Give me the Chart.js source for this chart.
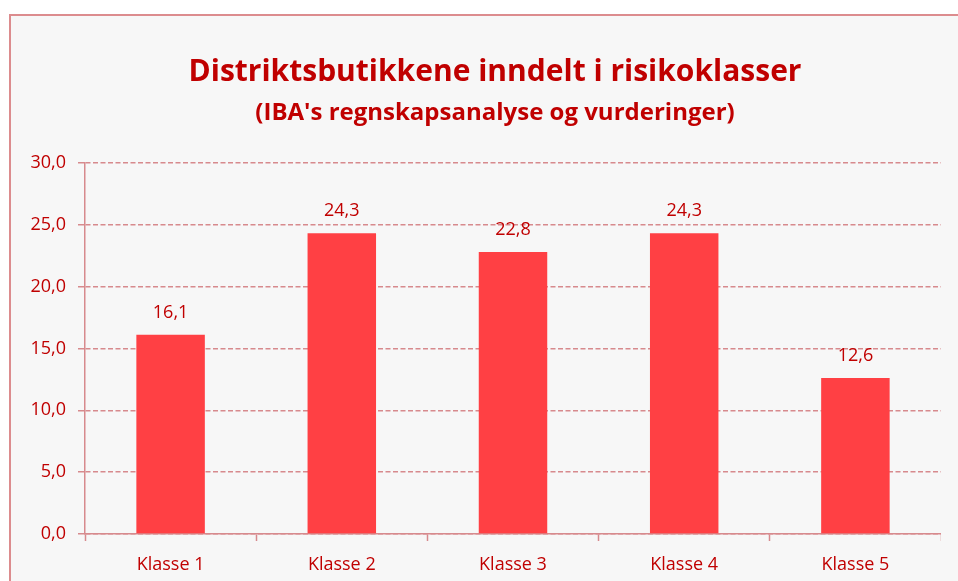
<!DOCTYPE html>
<html>
<head>
<meta charset="utf-8">
<script src="https://cdn.jsdelivr.net/npm/chart.js@4.4.1/dist/chart.umd.min.js"></script>
<style>
  html, body { margin: 0; padding: 0; background: #ffffff; overflow: hidden; }
  #frame {
    position: absolute; left: 9px; top: 14px;
    width: 972px; height: 580px;
    border: 2px solid #dc8c8e;
    background: #f7f7f7;
  }
  #chart { display: block; }
</style>
</head>
<body>
<div id="frame"><canvas id="chart" width="930" height="568"></canvas></div>
<script>
// Chart data
const categories = ['Klasse 1', 'Klasse 2', 'Klasse 3', 'Klasse 4', 'Klasse 5'];
const shares = [16.1, 24.3, 22.8, 24.3, 12.6];
const yTicks = [0, 5, 10, 15, 20, 25, 30];

const textRed = '#c00000';
const lineRed = '#d78a8d';
const fontFamily = '"Open Sans", Lato, sans-serif';

// norsk desimalkomma
const fmt = v => v.toFixed(1).replace('.', ',');

// Values above bars
const valueLabels = {
  id: 'valueLabels',
  afterDatasetsDraw(chart) {
    const ctx = chart.ctx;
    const meta = chart.getDatasetMeta(0);
    ctx.save();
    ctx.fillStyle = textRed;
    ctx.font = '18px ' + fontFamily;
    ctx.textAlign = 'center';
    ctx.textBaseline = 'middle';
    meta.data.forEach((bar, i) => {
      ctx.fillText(fmt(shares[i]), bar.x, bar.y - 22);
    });
    ctx.restore();
  }
};

// The titles are centred on the whole frame, which runs past the plot on the right
const widenTitles = {
  id: 'widenTitles',
  afterLayout(chart) {
    chart.boxes.forEach(b => {
      if (b.position === 'top' && b.options && b.options.text) {
        b.right += 38;
        b.width += 38;
      }
    });
  }
};

new Chart(document.getElementById('chart'), {
  type: 'bar',
  data: {
    labels: categories,
    datasets: [{
      data: shares,
      backgroundColor: '#ff4044',
      borderWidth: 0,
      barPercentage: 0.4,
      categoryPercentage: 1.0
    }]
  },
  options: {
    responsive: false,
    animation: false,
    layout: { padding: { left: 0, right: 0, top: 0, bottom: 0 } },
    plugins: {
      legend: { display: false },
      tooltip: { enabled: false },
      title: {
        display: true,
        text: 'Distriktsbutikkene inndelt i risikoklasser',
        color: textRed,
        font: { family: fontFamily, size: 30, weight: 'bold' },
        padding: { top: 38, bottom: 0 }
      },
      subtitle: {
        display: true,
        text: "(IBA's regnskapsanalyse og vurderinger)",
        color: textRed,
        font: { family: fontFamily, size: 24, weight: 'bold' },
        padding: { top: 9, bottom: 35 }
      }
    },
    scales: {
      x: {
        afterFit(scale) { scale.height = 50; },
        grid: {
          offset: true,
          drawOnChartArea: false,
          drawTicks: true,
          tickLength: 7,
          tickColor: lineRed,
          tickWidth: 1.5
        },
        border: { display: true, color: lineRed, width: 1.5 },
        ticks: {
          color: textRed,
          font: { family: fontFamily, size: 18 },
          padding: 13
        }
      },
      y: {
        min: 0,
        max: 30,
        afterFit(scale) { scale.width = 74; },
        afterBuildTicks(scale) {
          scale.ticks = yTicks.map(v => ({ value: v }));
        },
        grid: {
          color: lineRed,
          lineWidth: 1.5,
          drawTicks: true,
          tickLength: 7,
          tickColor: lineRed,
          tickWidth: 1.5
        },
        border: { display: true, color: lineRed, width: 1.5, dash: [5, 2.5] },
        ticks: {
          color: textRed,
          font: { family: fontFamily, size: 18 },
          padding: 12,
          callback: v => fmt(v)
        }
      }
    }
  },
  plugins: [valueLabels, widenTitles]
});
</script>
</body>
</html>
